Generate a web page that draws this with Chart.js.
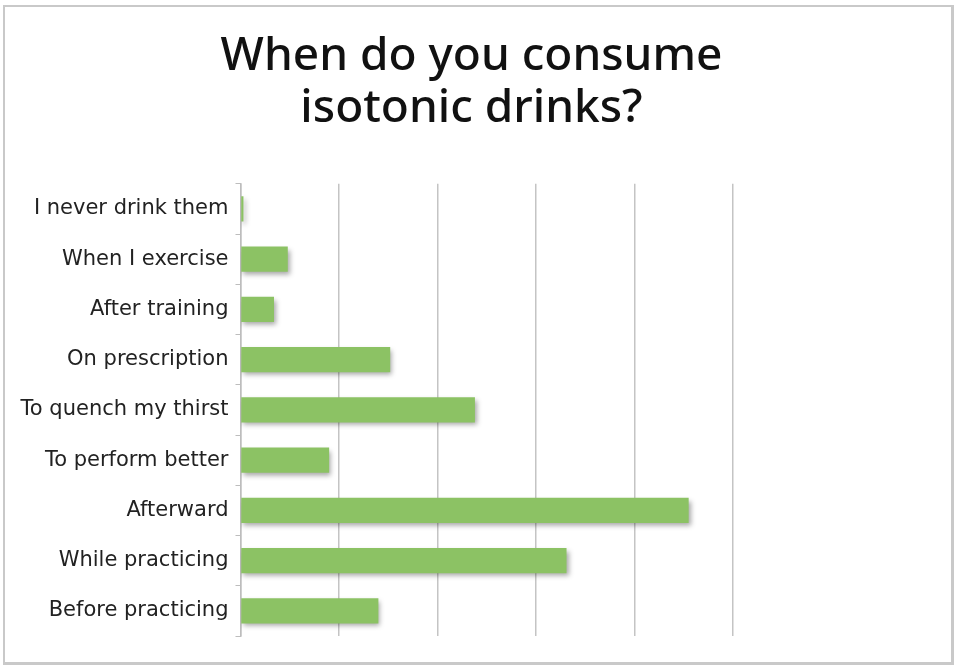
<!DOCTYPE html>
<html>
<head>
<meta charset="utf-8">
<script src="https://cdn.jsdelivr.net/npm/chart.js@4/dist/chart.umd.min.js"></script>
<style>
  html, body { margin: 0; padding: 0; background: #fff; }
  #wrap { position: relative; width: 960px; height: 668px; }
  #frame { position: absolute; left: 3px; top: 5px; width: 946px; height: 655px; border: 2px solid #c9c9c9; border-right-width: 3px; border-bottom-width: 3px; pointer-events: none; }
  canvas { position: absolute; left: 0; top: 0; }
</style>
</head>
<body>
<div id="wrap">
  <canvas id="chart" width="960" height="668"></canvas>
  <div id="frame"></div>
</div>
<script>
const titleLines = ['When do you consume', 'isotonic drinks?'];
const categories = [
  'I never drink them',
  'When I exercise',
  'After training',
  'On prescription',
  'To quench my thirst',
  'To perform better',
  'Afterward',
  'While practicing',
  'Before practicing'
];
const values = [0.3, 4.8, 3.4, 15.2, 23.8, 9.0, 45.5, 33.1, 14.0];
const xMax = 50;
const xStep = 10;

// soft drop shadow under the bars
const barShadow = {
  id: 'barShadow',
  beforeDatasetsDraw(chart) {
    const c = chart.ctx;
    c.save();
    c.shadowColor = 'rgba(0,0,0,0.35)';
    c.shadowBlur = 5;
    c.shadowOffsetX = 2;
    c.shadowOffsetY = 3;
  },
  afterDatasetsDraw(chart) {
    chart.ctx.restore();
  }
};

const ctx = document.getElementById('chart').getContext('2d');
new Chart(ctx, {
  type: 'bar',
  data: {
    labels: categories,
    datasets: [{
      data: values,
      backgroundColor: '#8cc264',
      borderWidth: 0,
      barPercentage: 0.5,
      categoryPercentage: 1
    }]
  },
  options: {
    indexAxis: 'y',
    responsive: false,
    animation: false,
    devicePixelRatio: 1,
    layout: { padding: { left: 0, right: 17, top: 0, bottom: 32 } },
    plugins: {
      legend: { display: false },
      tooltip: { enabled: false },
      title: {
        display: true,
        text: titleLines,
        color: '#111',
        font: { family: 'Noto Sans', size: 46, weight: 500, lineHeight: 1.15 },
        padding: { top: 30, bottom: 48 }
      }
    },
    scales: {
      x: {
        min: 0,
        max: xMax,
        ticks: { display: false, stepSize: xStep },
        grid: { color: '#c4c4c4', lineWidth: 1.5, drawTicks: false },
        border: { display: false }
      },
      y: {
        afterFit(scale) { scale.width = 240.5; },
        ticks: {
          color: '#222',
          font: { family: 'DejaVu Sans', size: 21 },
          padding: 7
        },
        grid: { offset: true, drawOnChartArea: false, tickLength: 5, color: '#bdbdbd' },
        border: { display: true, color: '#bdbdbd', width: 1.5 }
      },
      // empty right-hand spacer so the plot stops where the reference does
      spacer: {
        axis: 'y',
        type: 'category',
        position: 'right',
        afterFit(scale) { scale.width = 210; },
        ticks: { display: false },
        grid: { display: false },
        border: { display: false }
      }
    }
  },
  plugins: [barShadow]
});
</script>
</body>
</html>
